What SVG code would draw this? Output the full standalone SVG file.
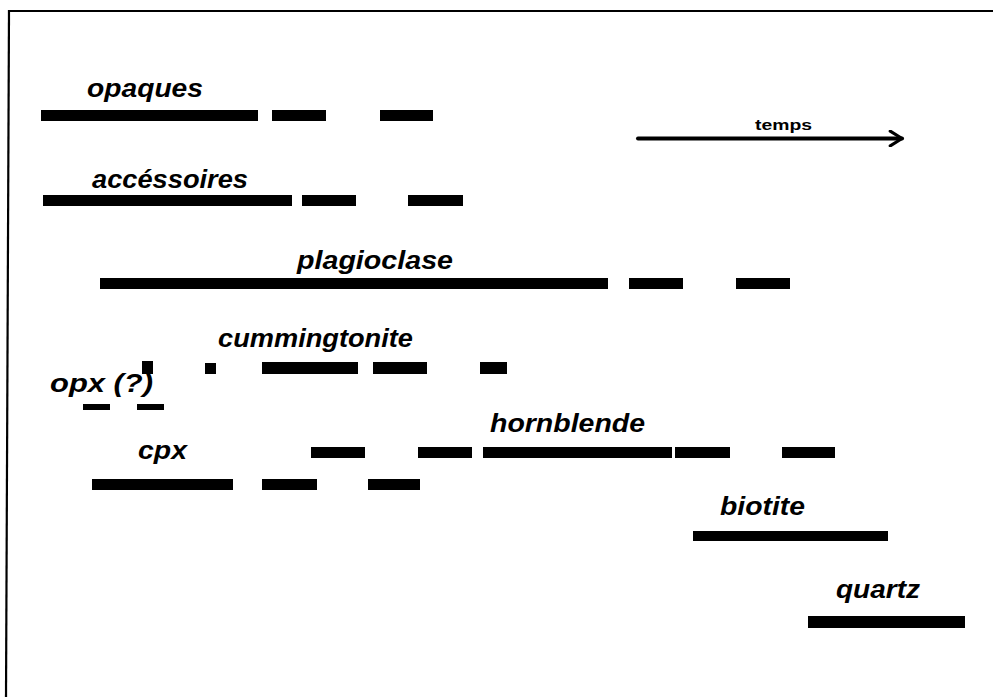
<svg xmlns="http://www.w3.org/2000/svg" width="993" height="697" viewBox="0 0 993 697">
<style>
.lbl{font-family:"Liberation Sans",Arial,sans-serif;font-weight:bold;font-style:italic;font-size:25px;fill:#000}
.small{font-family:"Liberation Sans",Arial,sans-serif;font-weight:bold;font-size:15px;fill:#000}
.bar{fill:#000}
</style>
<defs>
<marker id="chev" viewBox="0 0 10 12" refX="9" refY="6" markerWidth="4" markerHeight="4.4" orient="auto" markerUnits="strokeWidth">
<path d="M1,1 L9,6 L1,11" fill="none" stroke="#000" stroke-width="2.2" stroke-linecap="round" stroke-linejoin="round"/>
</marker>
</defs>
<rect width="993" height="697" fill="#fff"/>
<g id="frame">
<line x1="8" y1="11" x2="993" y2="11" stroke="#000" stroke-width="2.2"/>
<line x1="9" y1="10" x2="6" y2="697" stroke="#000" stroke-width="2.2"/>
</g>
<g id="connectors">
<line x1="638" y1="138.5" x2="902" y2="138.5" stroke="#000" stroke-width="4" stroke-linecap="round" marker-end="url(#chev)"/>
<text class="small" x="755" y="130" textLength="57" lengthAdjust="spacingAndGlyphs">temps</text>
</g>
<g id="opaques">
<text class="lbl" x="87" y="97" textLength="116" lengthAdjust="spacingAndGlyphs">opaques</text>
<rect class="bar" x="41" y="110" width="217" height="11"/>
<rect class="bar" x="272" y="110" width="54" height="11"/>
<rect class="bar" x="380" y="110" width="53" height="11"/>
</g>
<g id="accessoires">
<text class="lbl" x="92" y="188" textLength="156" lengthAdjust="spacingAndGlyphs">accéssoires</text>
<rect class="bar" x="43" y="195" width="249" height="11"/>
<rect class="bar" x="302" y="195" width="54" height="11"/>
<rect class="bar" x="408" y="195" width="55" height="11"/>
</g>
<g id="plagioclase">
<text class="lbl" x="297" y="269" textLength="156" lengthAdjust="spacingAndGlyphs">plagioclase</text>
<rect class="bar" x="100" y="278" width="508" height="11"/>
<rect class="bar" x="629" y="278" width="54" height="11"/>
<rect class="bar" x="736" y="278" width="54" height="11"/>
</g>
<g id="cummingtonite">
<text class="lbl" x="218" y="347" textLength="195" lengthAdjust="spacingAndGlyphs">cummingtonite</text>
<rect class="bar" x="142" y="361" width="11" height="13"/>
<rect class="bar" x="205" y="363" width="11" height="11"/>
<rect class="bar" x="262" y="362" width="96" height="12"/>
<rect class="bar" x="373" y="362" width="54" height="12"/>
<rect class="bar" x="480" y="362" width="27" height="12"/>
</g>
<g id="opx">
<text class="lbl" x="50" y="392" textLength="103" lengthAdjust="spacingAndGlyphs">opx (?)</text>
<rect class="bar" x="83" y="404" width="27" height="6"/>
<rect class="bar" x="137" y="404" width="27" height="6"/>
</g>
<g id="hornblende">
<text class="lbl" x="490" y="432" textLength="155" lengthAdjust="spacingAndGlyphs">hornblende</text>
<rect class="bar" x="311" y="447" width="54" height="11"/>
<rect class="bar" x="418" y="447" width="54" height="11"/>
<rect class="bar" x="483" y="447" width="189" height="11"/>
<rect class="bar" x="675" y="447" width="55" height="11"/>
<rect class="bar" x="782" y="447" width="53" height="11"/>
</g>
<g id="cpx">
<text class="lbl" x="138" y="459" textLength="49" lengthAdjust="spacingAndGlyphs">cpx</text>
<rect class="bar" x="92" y="479" width="141" height="11"/>
<rect class="bar" x="262" y="479" width="55" height="11"/>
<rect class="bar" x="368" y="479" width="52" height="11"/>
</g>
<g id="biotite">
<text class="lbl" x="720" y="515" textLength="85" lengthAdjust="spacingAndGlyphs">biotite</text>
<rect class="bar" x="693" y="531" width="195" height="10"/>
</g>
<g id="quartz">
<text class="lbl" x="836" y="598" textLength="84" lengthAdjust="spacingAndGlyphs">quartz</text>
<rect class="bar" x="808" y="616" width="157" height="12"/>
</g>
</svg>
